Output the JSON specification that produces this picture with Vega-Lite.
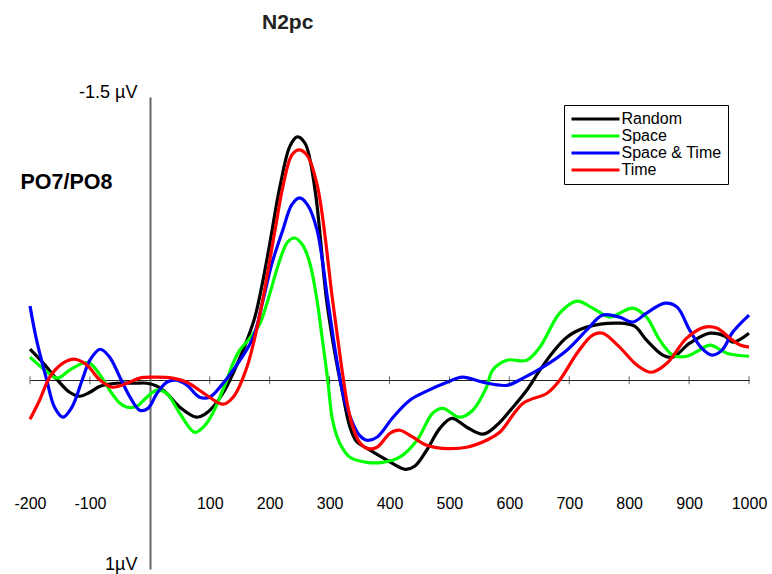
{
  "$schema": "https://vega.github.io/schema/vega-lite/v6.json",
  "width": 719,
  "height": 472,
  "autosize": {"type": "none"},
  "padding": {"left": 30, "top": 97, "right": 23, "bottom": 5},
  "background": "white",
  "config": {"font": "Liberation Sans", "view": {"stroke": null}},
  "title": {"text": "N2pc", "anchor": "start", "frame": "group", "dx": 232, "offset": 33, "baseline": "alphabetic", "fontSize": 21, "fontWeight": "bold", "color": "#222222"},
  "datasets": {
    "ticks": [{"t": -200}, {"t": -100}, {"t": 100}, {"t": 200}, {"t": 300}, {"t": 400}, {"t": 500}, {"t": 600}, {"t": 700}, {"t": 800}, {"t": 900}, {"t": 1000}],
    "erp": [
      {"c": "Random", "t": -200, "v": -0.164}, {"c": "Random", "t": -175, "v": -0.080}, {"c": "Random", "t": -154, "v": 0.0}, {"c": "Random", "t": -134, "v": 0.064}, {"c": "Random", "t": -117, "v": 0.085}, {"c": "Random", "t": -100, "v": 0.064}, {"c": "Random", "t": -83, "v": 0.032}, {"c": "Random", "t": -55, "v": 0.016}, {"c": "Random", "t": -25, "v": 0.016}, {"c": "Random", "t": -5, "v": 0.016}, {"c": "Random", "t": 12, "v": 0.032}, {"c": "Random", "t": 28, "v": 0.069}, {"c": "Random", "t": 50, "v": 0.143}, {"c": "Random", "t": 78, "v": 0.196}, {"c": "Random", "t": 92, "v": 0.180}, {"c": "Random", "t": 105, "v": 0.143}, {"c": "Random", "t": 125, "v": 0.053}, {"c": "Random", "t": 139, "v": -0.037}, {"c": "Random", "t": 159, "v": -0.186}, {"c": "Random", "t": 175, "v": -0.330}, {"c": "Random", "t": 187, "v": -0.500}, {"c": "Random", "t": 200, "v": -0.720}, {"c": "Random", "t": 217, "v": -1.024}, {"c": "Random", "t": 234, "v": -1.241}, {"c": "Random", "t": 246, "v": -1.289}, {"c": "Random", "t": 259, "v": -1.255}, {"c": "Random", "t": 275, "v": -1.024}, {"c": "Random", "t": 295, "v": -0.424}, {"c": "Random", "t": 309, "v": -0.140}, {"c": "Random", "t": 320, "v": 0.040}, {"c": "Random", "t": 334, "v": 0.249}, {"c": "Random", "t": 345, "v": 0.325}, {"c": "Random", "t": 362, "v": 0.360}, {"c": "Random", "t": 396, "v": 0.424}, {"c": "Random", "t": 426, "v": 0.472}, {"c": "Random", "t": 442, "v": 0.456}, {"c": "Random", "t": 462, "v": 0.371}, {"c": "Random", "t": 484, "v": 0.255}, {"c": "Random", "t": 504, "v": 0.202}, {"c": "Random", "t": 529, "v": 0.249}, {"c": "Random", "t": 556, "v": 0.286}, {"c": "Random", "t": 579, "v": 0.239}, {"c": "Random", "t": 606, "v": 0.143}, {"c": "Random", "t": 629, "v": 0.053}, {"c": "Random", "t": 651, "v": -0.053}, {"c": "Random", "t": 673, "v": -0.149}, {"c": "Random", "t": 696, "v": -0.228}, {"c": "Random", "t": 729, "v": -0.281}, {"c": "Random", "t": 784, "v": -0.302}, {"c": "Random", "t": 809, "v": -0.286}, {"c": "Random", "t": 829, "v": -0.212}, {"c": "Random", "t": 856, "v": -0.133}, {"c": "Random", "t": 873, "v": -0.122}, {"c": "Random", "t": 901, "v": -0.196}, {"c": "Random", "t": 935, "v": -0.249}, {"c": "Random", "t": 960, "v": -0.233}, {"c": "Random", "t": 973, "v": -0.202}, {"c": "Random", "t": 1000, "v": -0.249},
      {"c": "Space", "t": -200, "v": -0.122}, {"c": "Space", "t": -175, "v": -0.053}, {"c": "Space", "t": -155, "v": -0.011}, {"c": "Space", "t": -134, "v": -0.053}, {"c": "Space", "t": -112, "v": -0.090}, {"c": "Space", "t": -100, "v": -0.090}, {"c": "Space", "t": -83, "v": -0.027}, {"c": "Space", "t": -67, "v": 0.053}, {"c": "Space", "t": -50, "v": 0.122}, {"c": "Space", "t": -38, "v": 0.143}, {"c": "Space", "t": -22, "v": 0.138}, {"c": "Space", "t": -5, "v": 0.090}, {"c": "Space", "t": 12, "v": 0.053}, {"c": "Space", "t": 28, "v": 0.069}, {"c": "Space", "t": 50, "v": 0.175}, {"c": "Space", "t": 75, "v": 0.276}, {"c": "Space", "t": 92, "v": 0.239}, {"c": "Space", "t": 105, "v": 0.175}, {"c": "Space", "t": 125, "v": 0.027}, {"c": "Space", "t": 139, "v": -0.090}, {"c": "Space", "t": 150, "v": -0.159}, {"c": "Space", "t": 167, "v": -0.223}, {"c": "Space", "t": 184, "v": -0.302}, {"c": "Space", "t": 197, "v": -0.424}, {"c": "Space", "t": 217, "v": -0.637}, {"c": "Space", "t": 230, "v": -0.732}, {"c": "Space", "t": 242, "v": -0.753}, {"c": "Space", "t": 255, "v": -0.716}, {"c": "Space", "t": 267, "v": -0.621}, {"c": "Space", "t": 279, "v": -0.424}, {"c": "Space", "t": 287, "v": -0.239}, {"c": "Space", "t": 297, "v": 0.0}, {"c": "Space", "t": 305, "v": 0.212}, {"c": "Space", "t": 317, "v": 0.334}, {"c": "Space", "t": 334, "v": 0.408}, {"c": "Space", "t": 362, "v": 0.435}, {"c": "Space", "t": 389, "v": 0.435}, {"c": "Space", "t": 417, "v": 0.408}, {"c": "Space", "t": 446, "v": 0.318}, {"c": "Space", "t": 472, "v": 0.175}, {"c": "Space", "t": 489, "v": 0.149}, {"c": "Space", "t": 517, "v": 0.196}, {"c": "Space", "t": 539, "v": 0.159}, {"c": "Space", "t": 562, "v": 0.037}, {"c": "Space", "t": 572, "v": -0.053}, {"c": "Space", "t": 596, "v": -0.106}, {"c": "Space", "t": 629, "v": -0.106}, {"c": "Space", "t": 651, "v": -0.175}, {"c": "Space", "t": 684, "v": -0.355}, {"c": "Space", "t": 713, "v": -0.419}, {"c": "Space", "t": 739, "v": -0.382}, {"c": "Space", "t": 768, "v": -0.334}, {"c": "Space", "t": 784, "v": -0.355}, {"c": "Space", "t": 806, "v": -0.382}, {"c": "Space", "t": 829, "v": -0.334}, {"c": "Space", "t": 851, "v": -0.212}, {"c": "Space", "t": 873, "v": -0.133}, {"c": "Space", "t": 896, "v": -0.127}, {"c": "Space", "t": 917, "v": -0.159}, {"c": "Space", "t": 935, "v": -0.186}, {"c": "Space", "t": 963, "v": -0.143}, {"c": "Space", "t": 1000, "v": -0.127},
      {"c": "Space & Time", "t": -200, "v": -0.393}, {"c": "Space & Time", "t": -189, "v": -0.212}, {"c": "Space & Time", "t": -172, "v": 0.0}, {"c": "Space & Time", "t": -159, "v": 0.143}, {"c": "Space & Time", "t": -145, "v": 0.196}, {"c": "Space & Time", "t": -130, "v": 0.143}, {"c": "Space & Time", "t": -113, "v": 0.0}, {"c": "Space & Time", "t": -100, "v": -0.106}, {"c": "Space & Time", "t": -83, "v": -0.164}, {"c": "Space & Time", "t": -67, "v": -0.122}, {"c": "Space & Time", "t": -50, "v": -0.016}, {"c": "Space & Time", "t": -33, "v": 0.090}, {"c": "Space & Time", "t": -17, "v": 0.159}, {"c": "Space & Time", "t": -3, "v": 0.149}, {"c": "Space & Time", "t": 12, "v": 0.069}, {"c": "Space & Time", "t": 28, "v": 0.011}, {"c": "Space & Time", "t": 45, "v": 0.0}, {"c": "Space & Time", "t": 62, "v": 0.027}, {"c": "Space & Time", "t": 83, "v": 0.090}, {"c": "Space & Time", "t": 100, "v": 0.090}, {"c": "Space & Time", "t": 117, "v": 0.037}, {"c": "Space & Time", "t": 139, "v": -0.053}, {"c": "Space & Time", "t": 172, "v": -0.223}, {"c": "Space & Time", "t": 189, "v": -0.424}, {"c": "Space & Time", "t": 203, "v": -0.610}, {"c": "Space & Time", "t": 222, "v": -0.796}, {"c": "Space & Time", "t": 237, "v": -0.930}, {"c": "Space & Time", "t": 250, "v": -0.966}, {"c": "Space & Time", "t": 263, "v": -0.930}, {"c": "Space & Time", "t": 279, "v": -0.796}, {"c": "Space & Time", "t": 297, "v": -0.424}, {"c": "Space & Time", "t": 312, "v": -0.106}, {"c": "Space & Time", "t": 325, "v": 0.106}, {"c": "Space & Time", "t": 339, "v": 0.230}, {"c": "Space & Time", "t": 350, "v": 0.292}, {"c": "Space & Time", "t": 362, "v": 0.318}, {"c": "Space & Time", "t": 379, "v": 0.302}, {"c": "Space & Time", "t": 406, "v": 0.196}, {"c": "Space & Time", "t": 434, "v": 0.106}, {"c": "Space & Time", "t": 462, "v": 0.058}, {"c": "Space & Time", "t": 496, "v": 0.011}, {"c": "Space & Time", "t": 522, "v": -0.016}, {"c": "Space & Time", "t": 556, "v": 0.011}, {"c": "Space & Time", "t": 596, "v": 0.027}, {"c": "Space & Time", "t": 623, "v": -0.011}, {"c": "Space & Time", "t": 656, "v": -0.069}, {"c": "Space & Time", "t": 696, "v": -0.159}, {"c": "Space & Time", "t": 729, "v": -0.265}, {"c": "Space & Time", "t": 756, "v": -0.345}, {"c": "Space & Time", "t": 784, "v": -0.334}, {"c": "Space & Time", "t": 806, "v": -0.308}, {"c": "Space & Time", "t": 829, "v": -0.355}, {"c": "Space & Time", "t": 860, "v": -0.408}, {"c": "Space & Time", "t": 880, "v": -0.387}, {"c": "Space & Time", "t": 901, "v": -0.265}, {"c": "Space & Time", "t": 921, "v": -0.170}, {"c": "Space & Time", "t": 938, "v": -0.133}, {"c": "Space & Time", "t": 955, "v": -0.159}, {"c": "Space & Time", "t": 973, "v": -0.255}, {"c": "Space & Time", "t": 1000, "v": -0.345},
      {"c": "Time", "t": -200, "v": 0.207}, {"c": "Time", "t": -184, "v": 0.106}, {"c": "Time", "t": -167, "v": -0.016}, {"c": "Time", "t": -145, "v": -0.090}, {"c": "Time", "t": -125, "v": -0.111}, {"c": "Time", "t": -105, "v": -0.080}, {"c": "Time", "t": -83, "v": 0.0}, {"c": "Time", "t": -62, "v": 0.037}, {"c": "Time", "t": -38, "v": 0.016}, {"c": "Time", "t": -17, "v": -0.011}, {"c": "Time", "t": 5, "v": -0.016}, {"c": "Time", "t": 38, "v": -0.011}, {"c": "Time", "t": 62, "v": 0.011}, {"c": "Time", "t": 95, "v": 0.080}, {"c": "Time", "t": 122, "v": 0.127}, {"c": "Time", "t": 139, "v": 0.090}, {"c": "Time", "t": 162, "v": -0.069}, {"c": "Time", "t": 184, "v": -0.355}, {"c": "Time", "t": 209, "v": -0.796}, {"c": "Time", "t": 222, "v": -1.024}, {"c": "Time", "t": 237, "v": -1.193}, {"c": "Time", "t": 250, "v": -1.220}, {"c": "Time", "t": 263, "v": -1.188}, {"c": "Time", "t": 280, "v": -1.024}, {"c": "Time", "t": 305, "v": -0.424}, {"c": "Time", "t": 314, "v": -0.212}, {"c": "Time", "t": 322, "v": -0.027}, {"c": "Time", "t": 330, "v": 0.133}, {"c": "Time", "t": 339, "v": 0.249}, {"c": "Time", "t": 350, "v": 0.329}, {"c": "Time", "t": 362, "v": 0.361}, {"c": "Time", "t": 379, "v": 0.355}, {"c": "Time", "t": 401, "v": 0.281}, {"c": "Time", "t": 417, "v": 0.265}, {"c": "Time", "t": 439, "v": 0.302}, {"c": "Time", "t": 462, "v": 0.345}, {"c": "Time", "t": 489, "v": 0.361}, {"c": "Time", "t": 529, "v": 0.355}, {"c": "Time", "t": 562, "v": 0.318}, {"c": "Time", "t": 584, "v": 0.276}, {"c": "Time", "t": 623, "v": 0.122}, {"c": "Time", "t": 663, "v": 0.069}, {"c": "Time", "t": 684, "v": 0.0}, {"c": "Time", "t": 713, "v": -0.143}, {"c": "Time", "t": 739, "v": -0.239}, {"c": "Time", "t": 756, "v": -0.249}, {"c": "Time", "t": 784, "v": -0.175}, {"c": "Time", "t": 813, "v": -0.080}, {"c": "Time", "t": 837, "v": -0.042}, {"c": "Time", "t": 863, "v": -0.090}, {"c": "Time", "t": 896, "v": -0.223}, {"c": "Time", "t": 926, "v": -0.281}, {"c": "Time", "t": 946, "v": -0.276}, {"c": "Time", "t": 968, "v": -0.223}, {"c": "Time", "t": 985, "v": -0.186}, {"c": "Time", "t": 1000, "v": -0.175}
    ]
  },
  "layer": [
    {
      "data": {"name": "erp"},
      "mark": {"type": "line", "interpolate": "catmull-rom", "strokeWidth": 3.2, "clip": false},
      "encoding": {
        "x": {
          "field": "t", "type": "quantitative",
          "scale": {"domain": [-200, 1000], "nice": false, "zero": false},
          "axis": {"orient": "bottom", "offset": -189, "title": null, "grid": false, "ticks": false, "tickSize": 0, "domain": true, "domainColor": "#222222", "domainWidth": 1, "values": [-200, -100, 100, 200, 300, 400, 500, 600, 700, 800, 900, 1000], "labelExpr": "'' + datum.value", "labelFontSize": 16, "labelColor": "#000000", "labelPadding": 128, "labelBaseline": "alphabetic", "labelFlush": false, "labelOverlap": false, "labelBound": false}
        },
        "y": {
          "field": "v", "type": "quantitative",
          "scale": {"domain": [-1.5, 1], "reverse": true, "nice": false, "zero": false},
          "axis": {"orient": "left", "offset": -120, "grid": false, "ticks": false, "tickSize": 0, "domain": true, "domainColor": "#666666", "domainWidth": 2, "values": [-1.5, 1], "labelExpr": "datum.value == 1 ? '1µV' : '-1.5 µV'", "labelFontSize": 18, "labelColor": "#000000", "labelPadding": 13, "labelAlign": "right", "labelBaseline": "alphabetic", "labelFlush": false, "labelOverlap": false, "labelBound": false,
            "title": "PO7/PO8", "titleAngle": 0, "titleAlign": "left", "titleBaseline": "alphabetic", "titleX": -130, "titleY": 91, "titleFontSize": 21.5, "titleFontWeight": "bold", "titleColor": "#000000"}
        },
        "color": {
          "field": "c", "type": "nominal",
          "scale": {"domain": ["Random", "Space", "Space & Time", "Time"], "range": ["#000000", "#00ff00", "#0000ff", "#ff0000"]},
          "legend": {"orient": "none", "legendX": 534, "legendY": 8, "title": null, "strokeColor": "#000000", "fillColor": "#ffffff", "padding": 6, "cornerRadius": 0, "symbolType": "M-3.69,0H3.69", "symbolSize": 169, "symbolStrokeWidth": 3, "symbolOffset": 17.5, "labelOffset": 18, "labelFontSize": 16, "labelColor": "#000000", "rowPadding": 1, "labelLimit": 300}
        }
      }
    },
    {
      "data": {"name": "ticks"},
      "mark": {"type": "tick", "orient": "vertical", "size": 8, "thickness": 1, "color": "#222222"},
      "encoding": {
        "x": {"field": "t", "type": "quantitative"},
        "y": {"datum": 0, "type": "quantitative"}
      }
    }
  ]
}
